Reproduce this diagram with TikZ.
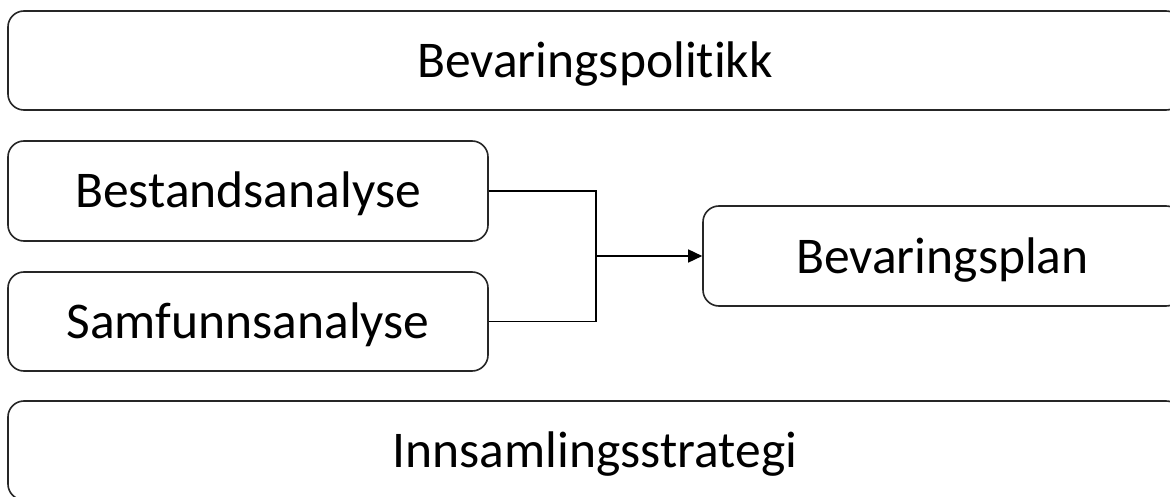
\documentclass[tikz,border=0pt]{standalone}
\usepackage{fontspec}
\setmainfont[Ligatures=NoCommon]{Carlito}
\usetikzlibrary{arrows.meta}
\begin{document}
\begin{tikzpicture}[x=1pt,y=-1pt,
  box/.style={draw=black!85,line width=1.6pt,rounded corners=16pt,fill=white,
    minimum height=99pt,inner sep=0pt,text height=40pt,text depth=6pt,
    font=\fontsize{51.5}{60}\selectfont,text=black},
  conn/.style={draw=black,line width=1.5pt}]
\useasboundingbox (0,0) rectangle (1170,497);
\clip (0,0) rectangle (1170,497);
\fill[white] (0,0) rectangle (1170,497);
\node[box,minimum width=1174pt] (top) at (595,60.5) {Bevaringspolitikk};
\node[box,minimum width=480pt,minimum height=100pt] (best) at (248,191) {Bestandsanalyse};
\node[box,minimum width=480pt] (samf) at (248,321.5) {Samfunnsanalyse};
\node[box,minimum width=479pt,minimum height=100pt] (plan) at (942.5,256) {Bevaringsplan};
\node[box,minimum width=1174pt] (inns) at (595,450.5) {Innsamlingsstrategi};
\coordinate (j) at (596,256);
\draw[conn] (best.east) -| (j);
\draw[conn] (samf.east) -| (j);
\draw[conn,-{Triangle[length=14pt,width=13pt]}] (j) -- (plan.west);
\end{tikzpicture}
\end{document}
